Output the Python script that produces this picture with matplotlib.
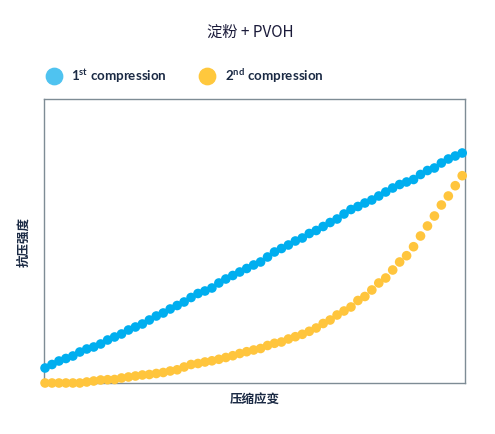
import matplotlib
matplotlib.use("Agg")
import matplotlib.pyplot as plt
import numpy as np

plt.rcParams['font.family'] = ['Noto Sans CJK SC', 'DejaVu Sans']
plt.rcParams['mathtext.fontset'] = 'custom'
plt.rcParams['mathtext.bf'] = 'Lato:bold'
plt.rcParams['mathtext.rm'] = 'Lato'

title = "淀粉 + PVOH"
xlabel = "压缩应变"
ylabel = "抗压强度"
series_labels = ["1$^{\\mathbf{st}}$ compression", "2$^{\\mathbf{nd}}$ compression"]

strain = list(range(61))
first_compression = [15, 18.5, 22, 24.5, 27, 31, 34, 36, 39, 43, 46, 49, 53, 56, 59, 63, 67, 70, 74, 77.5,
                     81, 85.5, 89.5, 92, 95, 100, 104, 107.5, 111, 114.5, 118, 121, 126, 131, 134.5, 138,
                     142, 145, 149.5, 152.5, 156.5, 160.5, 164, 169, 173.5, 176.5, 180, 183, 187, 191,
                     195, 198.5, 201, 203.5, 208.5, 212.5, 215, 220, 224, 227, 230]
second_compression = [0, 0, 0, 0, 0, 0, 1, 2, 3, 3.3, 3.5, 5, 6, 7, 8, 8.5, 9.5, 10.5, 12, 13.2,
                      16, 18.5, 19.5, 21, 22.2, 23.7, 25.5, 27.3, 29.5, 31.3, 33, 34.5, 37.5, 39.7, 41,
                      44, 46.3, 48.7, 51.7, 55, 59.5, 63, 68, 72, 76, 82.5, 86.5, 93, 100, 105, 113,
                      121, 127.3, 136.3, 147, 157, 167, 178, 187, 197.3, 207.3]

blue = "#00AEEF"
yellow = "#FFC53D"
navy = "#1B2A44"

fig = plt.figure(figsize=(4.95, 4.35), dpi=100)
ax = fig.add_axes([44/495, 1-384/435, 421/495, 284/435])

s1 = ax.scatter(strain, first_compression, s=48, color=blue, edgecolors='none', zorder=3, clip_on=False,
                label=series_labels[0])
s2 = ax.scatter(strain, second_compression, s=48, color=yellow, edgecolors='none', zorder=3, clip_on=False,
                label=series_labels[1])

ax.set_xlim(-0.15, 60.4)
ax.set_ylim(0, 284)
ax.set_xticks([])
ax.set_yticks([])
for sp in ax.spines.values():
    sp.set_color("#7E8C95")
    sp.set_linewidth(1.0)

fig.text(250/495, 1-32/435, title, ha='center', va='center', fontsize=11, color="#1B1B3A")
ax.set_xlabel(xlabel, fontsize=9, fontweight='bold', color=navy, labelpad=6)
ax.set_ylabel(ylabel, fontsize=9, fontweight='bold', color=navy, labelpad=10)

leg = fig.legend(handles=[s1, s2], loc='center left', bbox_to_anchor=(29.5/495, 1-76/435), ncol=2,
                 frameon=False, markerscale=1.7, handletextpad=0.4, columnspacing=2.15,
                 prop={'weight': 'bold', 'size': 9.6, 'family': ['Lato']}, labelcolor=navy,
                 handlelength=1.8)
leg.legend_handles[0].set_color("#4FC3F0")
leg.legend_handles[1].set_color("#FFC83D")

fig.savefig("out.png", dpi=100)
